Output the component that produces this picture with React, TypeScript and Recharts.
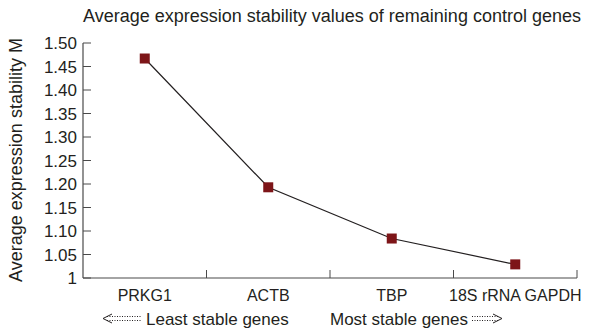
import React from 'react';
import { LineChart, Line, XAxis, YAxis, CartesianGrid } from 'recharts';

const genes = ['PRKG1', 'ACTB', 'TBP', '18S rRNA GAPDH'];
const stabilityM = [1.467, 1.193, 1.084, 1.029];
const yTicks = [1, 1.05, 1.1, 1.15, 1.2, 1.25, 1.3, 1.35, 1.4, 1.45, 1.5];

const title = 'Average expression stability values of remaining control genes';
const yLabel = 'Average expression stability M';
const leastLabel = 'Least stable genes';
const mostLabel = 'Most stable genes';

const data = genes.map((g, i) => ({ gene: g, m: stabilityM[i] }));

const TEXT = '#231f20';
const AXIS = '#4a4a4a';
const FONT = '"Liberation Sans", Arial, Helvetica, sans-serif';

const applyScale = (scale: any, v: any): number => {
  if (typeof scale === 'function') return Number(scale(v));
  if (scale && typeof scale.map === 'function') return Number(scale.map(v));
  if (scale && typeof scale.apply === 'function') return Number(scale.apply(v));
  return NaN;
};

const scaleRange = (scale: any): number[] | null => {
  if (scale && typeof scale.range === 'function') {
    const r = scale.range();
    if (Array.isArray(r)) return r;
  }
  return null;
};

const boundaryGenerator = (props: any) => {
  const xAxis = props.xAxis;
  const scale = xAxis && xAxis.scale;
  const pts: number[] = genes.slice(1).map((g) => applyScale(scale, g));
  const range = scaleRange(scale);
  if (range) pts.push(Math.max(range[0], range[1]));
  const valid = pts.filter((v) => Number.isFinite(v));
  if (valid.length === genes.length) return valid;
  const off = props.offset || {};
  if (off.width) {
    return genes.map((_, i) => off.left + (off.width * (i + 1)) / genes.length);
  }
  return valid;
};

const ShortTick = (p: any) => (
  <line key={p.key ?? p.index} x1={p.x1} x2={p.x2} y1={p.y2 - 8} y2={p.y2} stroke={AXIS} strokeWidth={1} />
);

const SquareDot = (p: any) => {
  const { cx, cy, index } = p;
  if (cx == null || cy == null) return <g key={index} />;
  return <rect key={index} x={cx - 5} y={cy - 5} width={10} height={10} fill="#7d1518" />;
};

const fmt = (v: number) => (v === 1 ? '1' : v.toFixed(2));

export default function App() {
  return (
    <div style={{ position: 'absolute', left: 0, top: 0, width: 594, height: 335, background: '#fff' }}>
      <LineChart
        width={594}
        height={335}
        data={data}
        margin={{ top: 43, right: 17, left: 0, bottom: 0 }}
        style={{ fontFamily: FONT }}
      >
        <CartesianGrid
          horizontal={false}
          vertical={ShortTick}
          verticalCoordinatesGenerator={boundaryGenerator}
        />
        <XAxis
          dataKey="gene"
          scale="band"
          height={57}
          tickLine={false}
          tickSize={0}
          tickMargin={12}
          axisLine={{ stroke: AXIS, strokeWidth: 1.2 }}
          tick={{ fill: TEXT, fontSize: 16, fontFamily: FONT }}
          interval={0}
        />
        <YAxis
          width={83}
          domain={[1, 1.5]}
          ticks={yTicks}
          interval={0}
          tickFormatter={fmt}
          tickSize={-8}
          tickMargin={14}
          axisLine={{ stroke: AXIS, strokeWidth: 1.2 }}
          tickLine={{ stroke: AXIS }}
          tick={{ fill: TEXT, fontSize: 17, fontFamily: FONT }}
          allowDataOverflow
        />
        <Line
          type="linear"
          dataKey="m"
          stroke={TEXT}
          strokeWidth={1.2}
          dot={SquareDot}
          activeDot={false}
          isAnimationActive={false}
        />
        <text x={332} y={22} textAnchor="middle" fill={TEXT} fontSize={18} fontFamily={FONT}>
          {title}
        </text>
        <text
          x={16}
          y={160}
          transform="rotate(-90 16 160)"
          textAnchor="middle"
          dominantBaseline="central"
          fill={TEXT}
          fontSize={18}
          fontFamily={FONT}
        >
          {yLabel}
        </text>
        <g stroke={TEXT} fill="none">
          <polyline points="112,314 103,318.5 112,323" strokeWidth={1} />
          <line x1={107} x2={141} y1={316.5} y2={316.5} strokeWidth={1} strokeDasharray="1 1.5" />
          <line x1={107} x2={141} y1={320.5} y2={320.5} strokeWidth={1} strokeDasharray="1 1.5" />
          <polyline points="493,314 502,318.5 493,323" strokeWidth={1} />
          <line x1={472} x2={498} y1={316.5} y2={316.5} strokeWidth={1} strokeDasharray="1 1.5" />
          <line x1={472} x2={498} y1={320.5} y2={320.5} strokeWidth={1} strokeDasharray="1 1.5" />
        </g>
        <text x={146} y={325} fill={TEXT} fontSize={17} fontFamily={FONT}>
          {leastLabel}
        </text>
        <text x={330} y={325} fill={TEXT} fontSize={17} fontFamily={FONT}>
          {mostLabel}
        </text>
      </LineChart>
    </div>
  );
}
